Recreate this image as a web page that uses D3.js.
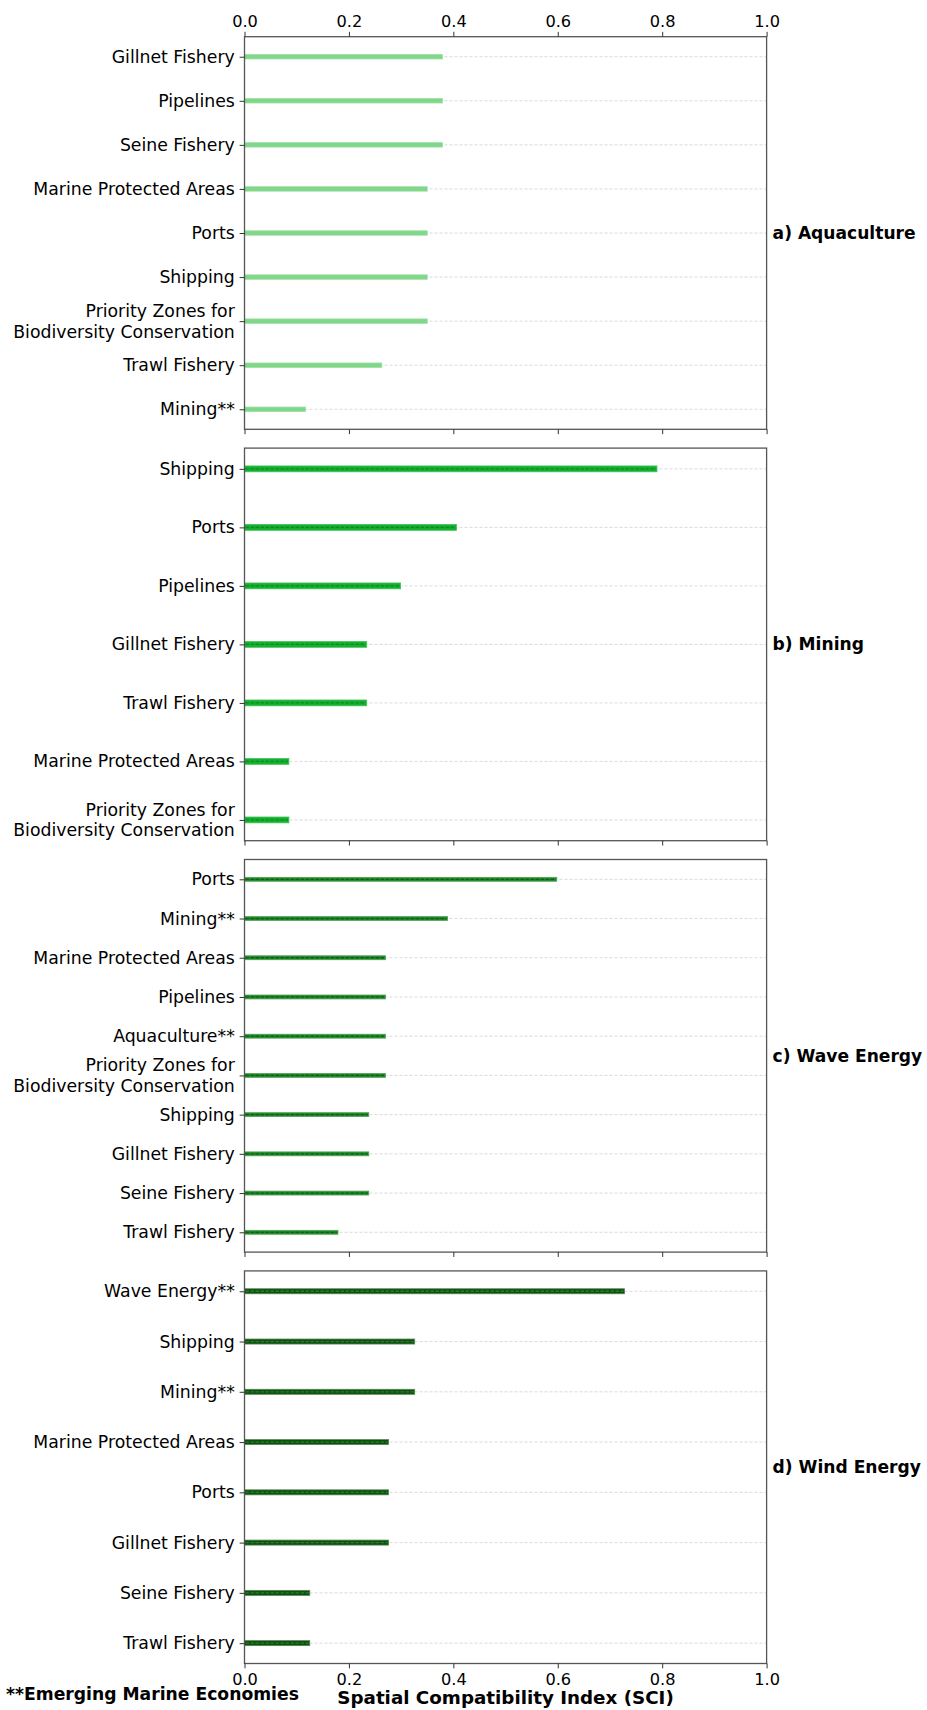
<!DOCTYPE html>
<html>
<head>
<meta charset="utf-8">
<script src="https://cdn.jsdelivr.net/npm/d3@7"></script>
<style>
  body { margin: 0; background: #fff; }
  svg { display: block; }
  text { font-family: "DejaVu Sans", sans-serif; }
</style>
</head>
<body>
<svg id="chart" width="927" height="1710"></svg>
<script>
// Spatial Compatibility Index (SCI) of each marine economy with other uses
const xTicks = [0.0, 0.2, 0.4, 0.6, 0.8, 1.0];

const aquacultureLabels = ["Gillnet Fishery", "Pipelines", "Seine Fishery", "Marine Protected Areas", "Ports",
  "Shipping", "Priority Zones for\nBiodiversity Conservation", "Trawl Fishery", "Mining**"];
const aquacultureValues = [0.379, 0.379, 0.379, 0.350, 0.350, 0.350, 0.350, 0.263, 0.117];

const miningLabels = ["Shipping", "Ports", "Pipelines", "Gillnet Fishery", "Trawl Fishery",
  "Marine Protected Areas", "Priority Zones for\nBiodiversity Conservation"];
const miningValues = [0.790, 0.406, 0.299, 0.234, 0.234, 0.085, 0.085];

const waveLabels = ["Ports", "Mining**", "Marine Protected Areas", "Pipelines", "Aquaculture**",
  "Priority Zones for\nBiodiversity Conservation", "Shipping", "Gillnet Fishery", "Seine Fishery", "Trawl Fishery"];
const waveValues = [0.598, 0.389, 0.270, 0.270, 0.270, 0.270, 0.238, 0.238, 0.238, 0.179];

const windLabels = ["Wave Energy**", "Shipping", "Mining**", "Marine Protected Areas", "Ports",
  "Gillnet Fishery", "Seine Fishery", "Trawl Fishery"];
const windValues = [0.728, 0.326, 0.326, 0.276, 0.276, 0.276, 0.125, 0.125];

const panelTitles = ["a) Aquaculture", "b) Mining", "c) Wave Energy", "d) Wind Energy"];

const panels = [
  { title: panelTitles[0], labels: aquacultureLabels, values: aquacultureValues,
    fill: "#80d68a", edge: "#97e09f", hatch: null },
  { title: panelTitles[1], labels: miningLabels, values: miningValues,
    fill: "#14b02f", edge: "#45c35a", hatch: "#0c8a22" },
  { title: panelTitles[2], labels: waveLabels, values: waveValues,
    fill: "#1f8a27", edge: "#55a35b", hatch: "#0f5f16" },
  { title: panelTitles[3], labels: windLabels, values: windValues,
    fill: "#0a520c", edge: "#5b855b", hatch: "#2c7a30" }
];

const svg = d3.select("#chart");
const left = 244.5, right = 766.6;
const panelTop0 = 36.7, panelH = 392.6, panelStep = 411.4;
const tickLen = 4.86, tickPad = 4.86;
const barH = 0.1;

const x = d3.scaleLinear().domain([0, 1]).range([left, right]);

panels.forEach((p, i) => {
  const top = panelTop0 + i * panelStep;
  const bottom = top + panelH;
  const n = p.labels.length;
  const span = (n - 1) + barH;
  const m = 0.05 * span;
  const y = d3.scaleLinear()
    .domain([-barH / 2 - m, n - 1 + barH / 2 + m])
    .range([top, bottom]);

  const g = svg.append("g");

  // dashed horizontal grid at each category
  g.selectAll("line.grid")
    .data(d3.range(n))
    .join("line")
    .attr("class", "grid")
    .attr("x1", left).attr("x2", right)
    .attr("y1", j => y(j)).attr("y2", j => y(j))
    .attr("stroke", "#d6d6d6")
    .attr("stroke-width", 0.9)
    .attr("stroke-dasharray", "3,2");

  // bars
  g.selectAll("rect.bar")
    .data(p.values)
    .join("rect")
    .attr("class", "bar")
    .attr("x", x(0))
    .attr("y", (d, j) => y(j - barH / 2))
    .attr("width", d => x(d) - x(0))
    .attr("height", (d, j) => y(j + barH / 2) - y(j - barH / 2))
    .attr("fill", p.fill)
    .attr("stroke", p.edge)
    .attr("stroke-width", 0.8);

  // hatch line inside the bars
  if (p.hatch) {
    g.selectAll("line.hatch")
      .data(p.values)
      .join("line")
      .attr("class", "hatch")
      .attr("x1", x(0) + 1)
      .attr("x2", d => x(d) - 1)
      .attr("y1", (d, j) => y(j))
      .attr("y2", (d, j) => y(j))
      .attr("stroke", p.hatch)
      .attr("stroke-width", 1.3)
      .attr("stroke-dasharray", "3.5,1.5");
  }

  // frame
  g.append("rect")
    .attr("x", left).attr("y", top)
    .attr("width", right - left).attr("height", panelH)
    .attr("fill", "none")
    .attr("stroke", "#555")
    .attr("stroke-width", 1.3);

  // category axis
  const yAxis = g.append("g")
    .attr("transform", `translate(${left},0)`)
    .call(d3.axisLeft(y)
      .tickValues(d3.range(n))
      .tickSize(tickLen)
      .tickPadding(tickPad)
      .tickFormat(j => p.labels[j]));
  yAxis.select(".domain").remove();
  yAxis.attr("font-size", null).attr("font-family", null).attr("color", "#333");
  yAxis.selectAll("text")
    .attr("fill", "#000")
    .style("font-size", "17.3px")
    .each(function (j) {
      const lines = p.labels[j].split("\n");
      if (lines.length > 1) {
        const t = d3.select(this);
        const tx = t.attr("x");
        t.text(null).attr("dy", null);
        lines.forEach((ln, k) => {
          t.append("tspan")
            .attr("x", tx)
            .attr("dy", k === 0 ? `${0.32 - 0.6 * (lines.length - 1)}em` : "1.2em")
            .text(ln);
        });
      }
    });

  // bottom value axis (labelled only on the last panel)
  const isLast = i === panels.length - 1;
  const xAxis = g.append("g")
    .attr("transform", `translate(0,${bottom})`)
    .call(d3.axisBottom(x)
      .tickValues(xTicks)
      .tickSize(tickLen)
      .tickPadding(tickPad)
      .tickFormat(isLast ? d3.format(".1f") : () => ""));
  xAxis.select(".domain").remove();
  xAxis.attr("font-size", null).attr("font-family", null).attr("color", "#333");
  xAxis.selectAll("text").attr("fill", "#000").style("font-size", "16.2px");

  // top value axis on the first panel
  if (i === 0) {
    const topAxis = g.append("g")
      .attr("transform", `translate(0,${top})`)
      .call(d3.axisTop(x)
        .tickValues(xTicks)
        .tickSize(tickLen)
        .tickPadding(tickPad)
        .tickFormat(d3.format(".1f")));
    topAxis.select(".domain").remove();
    topAxis.attr("font-size", null).attr("font-family", null).attr("color", "#333");
    topAxis.selectAll("text").attr("fill", "#000").style("font-size", "16.2px");
  }

  // panel title on the right
  g.append("text")
    .attr("x", right + 6)
    .attr("y", (top + bottom) / 2)
    .attr("dy", "0.35em")
    .attr("font-weight", "bold")
    .style("font-size", "17.1px")
    .attr("fill", "#000")
    .text(p.title);
});

// axis title and footnote
svg.append("text")
  .attr("x", (left + right) / 2)
  .attr("y", 1704)
  .attr("text-anchor", "middle")
  .attr("font-weight", "bold")
  .style("font-size", "18.3px")
  .attr("fill", "#000")
  .text("Spatial Compatibility Index (SCI)");

svg.append("text")
  .attr("x", 6)
  .attr("y", 1700)
  .attr("font-weight", "bold")
  .style("font-size", "17.2px")
  .attr("fill", "#000")
  .text("**Emerging Marine Economies");
</script>
</body>
</html>
